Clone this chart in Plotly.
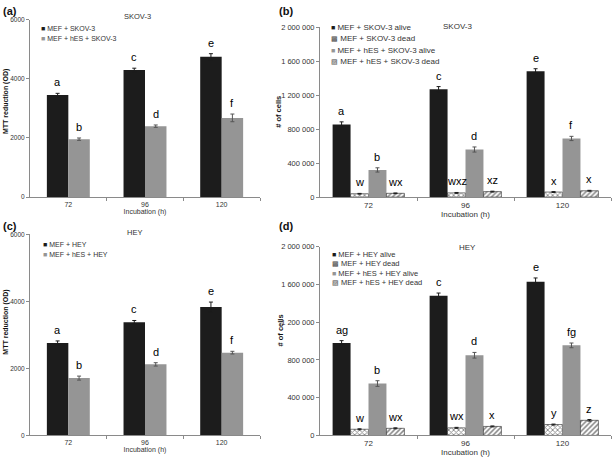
import plotly.graph_objects as go

# ---------------- data ----------------
times = ["72", "96", "120"]

# (a) SKOV-3 MTT
a_mef = [3450, 4300, 4750]
a_mef_err = [60, 60, 100]
a_hes = [1960, 2400, 2680]
a_hes_err = [40, 40, 130]
a_mef_lbl = ["a", "c", "e"]
a_hes_lbl = ["b", "d", "f"]

# (b) SKOV-3 cell counts
b_mef_alive = [855000, 1270000, 1480000]
b_mef_alive_err = [30000, 30000, 30000]
b_mef_dead = [40000, 50000, 60000]
b_mef_dead_err = [4000, 5000, 5000]
b_hes_alive = [320000, 560000, 690000]
b_hes_alive_err = [25000, 30000, 25000]
b_hes_dead = [45000, 65000, 75000]
b_hes_dead_err = [4000, 5000, 5000]
b_mef_alive_lbl = ["a", "c", "e"]
b_mef_dead_lbl = ["w", "wxz", "x"]
b_hes_alive_lbl = ["b", "d", "f"]
b_hes_dead_lbl = ["wx", "xz", "x"]

# (c) HEY MTT
c_mef = [2760, 3380, 3830]
c_mef_err = [60, 50, 150]
c_hes = [1710, 2120, 2470]
c_hes_err = [60, 50, 40]
c_mef_lbl = ["a", "c", "e"]
c_hes_lbl = ["b", "d", "f"]

# (d) HEY cell counts
d_mef_alive = [980000, 1480000, 1630000]
d_mef_alive_err = [25000, 30000, 40000]
d_mef_dead = [65000, 80000, 115000]
d_mef_dead_err = [5000, 5000, 5000]
d_hes_alive = [550000, 850000, 955000]
d_hes_alive_err = [30000, 30000, 25000]
d_hes_dead = [75000, 95000, 160000]
d_hes_dead_err = [5000, 5000, 8000]
d_mef_alive_lbl = ["ag", "c", "e"]
d_mef_dead_lbl = ["w", "wx", "y"]
d_hes_alive_lbl = ["b", "d", "fg"]
d_hes_dead_lbl = ["wx", "x", "z"]

# ---------------- styling ----------------
W, H = 613, 460
FONT = "Arial, Liberation Sans, sans-serif"
BLACK = "#1c1c1c"
GRAY = "#959595"
AXC = "#8a8a8a"
TXT = "#333333"

xpos = list(range(len(times)))

fig = go.Figure()
annotations = []


def px_x(p):
    return p / W


def px_y(p):
    return 1 - p / H


def add_bar(xa, ya, vals, errs, lbls, off, wid, color, pattern=None, ecolor=None):
    marker = dict(color=color, line=dict(width=0))
    if pattern is not None:
        marker = dict(color="white", line=dict(color="#222", width=0.6),
                      pattern=dict(shape=pattern, fgcolor="#111", bgcolor="white",
                                   size=3.5, solidity=0.45))
    fig.add_trace(go.Bar(
        x=xpos, y=vals, xaxis=xa, yaxis=ya, width=wid, offset=off,
        marker=marker, showlegend=False, hoverinfo="skip",
        error_y=dict(type="data", array=errs, color=ecolor or color,
                     thickness=1, width=2, visible=True),
    ))
    for i, (v, e, t) in enumerate(zip(vals, errs, lbls)):
        annotations.append(dict(
            x=i + off + wid / 2, y=v + e, xref=xa, yref=ya,
            text=t, showarrow=False, yanchor="bottom", yshift=3,
            font=dict(family=FONT, size=11, color="#000000"),
        ))


# panel (a)
w2 = 0.28
add_bar("x", "y", a_mef, a_mef_err, a_mef_lbl, -w2, w2, BLACK)
add_bar("x", "y", a_hes, a_hes_err, a_hes_lbl, 0, w2, GRAY, ecolor="#555")
# panel (c)
add_bar("x3", "y3", c_mef, c_mef_err, c_mef_lbl, -w2, w2, BLACK)
add_bar("x3", "y3", c_hes, c_hes_err, c_hes_lbl, 0, w2, GRAY, ecolor="#555")

# panel (b)
w4 = 0.185
add_bar("x2", "y2", b_mef_alive, b_mef_alive_err, b_mef_alive_lbl, -2 * w4, w4, BLACK)
add_bar("x2", "y2", b_mef_dead, b_mef_dead_err, b_mef_dead_lbl, -w4, w4, BLACK, pattern="x")
add_bar("x2", "y2", b_hes_alive, b_hes_alive_err, b_hes_alive_lbl, 0, w4, GRAY, ecolor="#555")
add_bar("x2", "y2", b_hes_dead, b_hes_dead_err, b_hes_dead_lbl, w4, w4, BLACK, pattern="/")
# panel (d)
add_bar("x4", "y4", d_mef_alive, d_mef_alive_err, d_mef_alive_lbl, -2 * w4, w4, BLACK)
add_bar("x4", "y4", d_mef_dead, d_mef_dead_err, d_mef_dead_lbl, -w4, w4, BLACK, pattern="x")
add_bar("x4", "y4", d_hes_alive, d_hes_alive_err, d_hes_alive_lbl, 0, w4, GRAY, ecolor="#555")
add_bar("x4", "y4", d_hes_dead, d_hes_dead_err, d_hes_dead_lbl, w4, w4, BLACK, pattern="/")


def xaxis(domain, anchor, fsize):
    return dict(
        domain=domain, anchor=anchor, range=[-0.5, 2.5],
        tickvals=xpos, ticktext=times, ticks="", showgrid=False, zeroline=False,
        showline=True, linecolor=AXC, linewidth=1,
        tickfont=dict(family=FONT, size=fsize, color=TXT),
        minor=dict(tickvals=[0.5, 1.5, 2.5], ticks="outside", ticklen=3,
                   tickcolor=AXC, showgrid=False),
        title=dict(text="Incubation (h)", font=dict(family=FONT, size=fsize, color=TXT),
                   standoff=0),
    )


def yaxis(domain, anchor, rng, dtick, fmt, tsize):
    return dict(
        domain=domain, anchor=anchor, range=rng, dtick=dtick, tick0=0,
        tickformat=fmt, showgrid=False, zeroline=False,
        showline=True, linecolor=AXC, linewidth=1,
        ticks="outside", ticklen=3, tickcolor=AXC,
        tickfont=dict(family=FONT, size=tsize, color=TXT),
    )


yd_a = [px_y(197), px_y(16)]
yd_b = [px_y(197), px_y(23.5)]
yd_c = [px_y(440), px_y(235)]
yd_d = [px_y(440), px_y(247.7)]
xd_ac = [px_x(30), px_x(260)]
xd_bd = [px_x(320), px_x(611)]

fig.update_layout(
    xaxis=xaxis(xd_ac, "y", 7),
    yaxis=yaxis(yd_a, "x", [0, 6000], 2000, "d", 6.5),
    xaxis2=xaxis(xd_bd, "y2", 8),
    yaxis2=yaxis(yd_b, "x2", [0, 2000000], 400000, ",d", 7.5),
    xaxis3=xaxis(xd_ac, "y3", 7),
    yaxis3=yaxis(yd_c, "x3", [0, 6000], 2000, "d", 6.5),
    xaxis4=xaxis(xd_bd, "y4", 8),
    yaxis4=yaxis(yd_d, "x4", [0, 2000000], 400000, ",d", 7.5),
)


def paper_text(xp, yp, text, size, color="#111", xanchor="left", bold=False, angle=0):
    annotations.append(dict(
        x=px_x(xp), y=px_y(yp), xref="paper", yref="paper", showarrow=False,
        text=f"<b>{text}</b>" if bold else text, xanchor=xanchor, yanchor="middle",
        textangle=angle, font=dict(family=FONT, size=size, color=color),
    ))


# panel letters
paper_text(1, 7, "(a)", 11, bold=True)
paper_text(277, 7, "(b)", 11, bold=True)
paper_text(1, 226, "(c)", 11, bold=True)
paper_text(277, 226, "(d)", 11, bold=True)

# y-axis titles
paper_text(6, 100, "MTT reduction (OD)", 7, bold=True, xanchor="center", angle=-90)
paper_text(6, 325, "MTT reduction (OD)", 7, bold=True, xanchor="center", angle=-90)
paper_text(279, 110, "# of cells", 7.5, bold=True, xanchor="center", angle=-90)
paper_text(280, 333, "# of cells", 7.5, bold=True, xanchor="center", angle=-90)

# panel titles
paper_text(137, 13, "SKOV-3", 7.5, color=TXT, xanchor="center")
paper_text(457, 23, "SKOV-3", 8, color=TXT, xanchor="center")
paper_text(134, 233, "HEY", 7.5, color=TXT, xanchor="center")
paper_text(468, 248, "HEY", 8, color=TXT, xanchor="center")

# legends
SQ_B = f"<span style='color:{BLACK};font-size:7px'>■</span>"
SQ_G = f"<span style='color:{GRAY};font-size:7px'>■</span>"
SQ_X = "<span style='color:#444;font-size:7px'>▩</span>"
SQ_H = "<span style='color:#444;font-size:7px'>▨</span>"

leg_a = [(SQ_B, "MEF + SKOV-3"), (SQ_G, "MEF + hES + SKOV-3")]
leg_b = [(SQ_B, "MEF + SKOV-3 alive"), (SQ_X, "MEF + SKOV-3 dead"),
         (SQ_G, "MEF + hES + SKOV-3 alive"), (SQ_H, "MEF + hES + SKOV-3 dead")]
leg_c = [(SQ_B, "MEF + HEY"), (SQ_G, "MEF + hES + HEY")]
leg_d = [(SQ_B, "MEF + HEY alive"), (SQ_X, "MEF + HEY dead"),
         (SQ_G, "MEF + hES + HEY alive"), (SQ_H, "MEF + hES + HEY dead")]

for i, (s, t) in enumerate(leg_a):
    paper_text(39, 25 + 10 * i, f"{s} {t}", 7, color=TXT)
for i, (s, t) in enumerate(leg_b):
    paper_text(329, 24 + 11.5 * i, f"{s} {t}", 8, color=TXT)
for i, (s, t) in enumerate(leg_c):
    paper_text(41, 245 + 10 * i, f"{s} {t}", 7, color=TXT)
for i, (s, t) in enumerate(leg_d):
    paper_text(330, 255 + 9.7 * i, f"{s} {t}", 7.5, color=TXT)

fig.update_layout(
    width=W, height=H, margin=dict(l=0, r=0, t=0, b=0),
    paper_bgcolor="white", plot_bgcolor="white",
    separators=". ", barmode="overlay", showlegend=False,
    annotations=annotations,
)

# remove the browser's default 8px body margin so the figure sits at the page origin
fig.write_html("out.html", config={"displayModeBar": False},
               post_script="document.body.style.margin='0';")
